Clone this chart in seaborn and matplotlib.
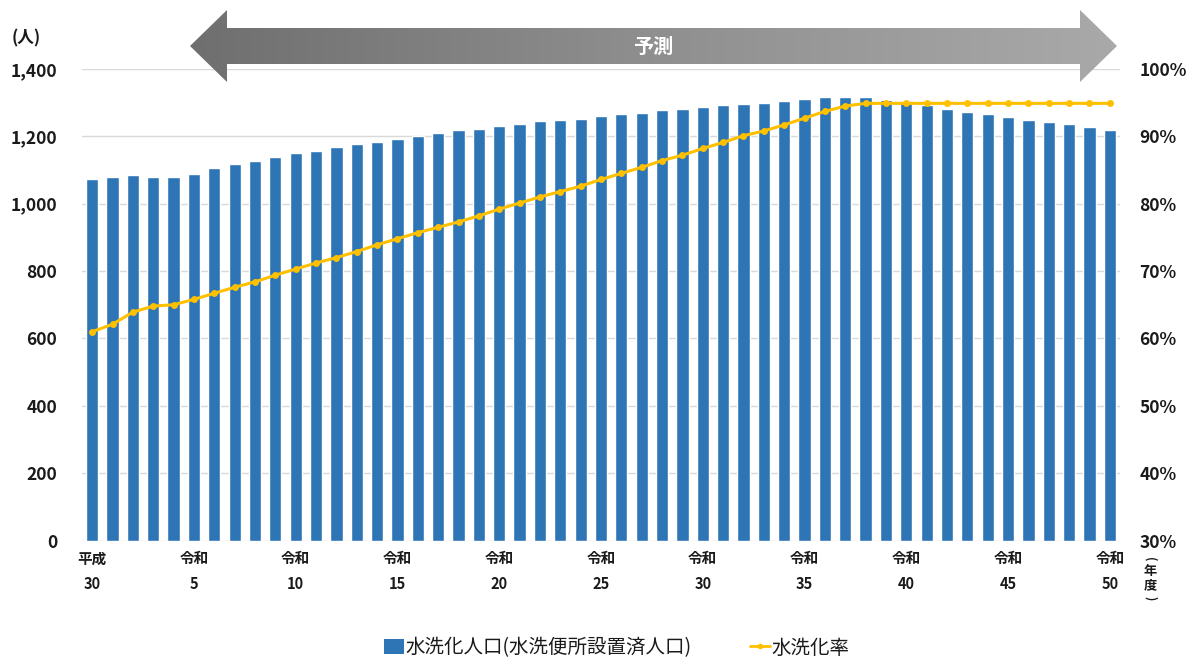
import numpy as np
import pandas as pd
import matplotlib
matplotlib.use("Agg")
import matplotlib.pyplot as plt
from matplotlib.patches import Polygon, Patch
from matplotlib.lines import Line2D
import seaborn as sns

# Fiscal years: Heisei 30 followed by Reiwa 1-50
years = ["平成30"] + [f"令和{i}" for i in range(1, 51)]

# Flush-toilet population (persons)
population = [
    1073, 1078, 1086, 1078, 1078, 1089, 1105, 1117, 1128,
    1138, 1150, 1158, 1167, 1176, 1184, 1192, 1201, 1209, 1218, 1223,
    1232, 1237, 1245, 1248, 1252, 1261, 1266, 1270, 1278, 1282, 1287,
    1292, 1296, 1300, 1304, 1311, 1316, 1316,
    1316, 1308, 1300, 1293, 1282, 1273, 1265, 1256, 1248, 1243, 1236,
    1227, 1219,
]

# Flush-toilet rate (%)
rate = [
    61.0, 62.1, 63.9, 64.8, 65.0, 65.8, 66.7, 67.6, 68.4, 69.4,
    70.3, 71.2, 72.0, 72.9, 73.9, 74.8, 75.7, 76.5, 77.3, 78.2,
    79.2, 80.1, 81.0, 81.8, 82.6, 83.6, 84.5, 85.4, 86.4, 87.2,
    88.2, 89.1, 90.1, 90.8, 91.7, 92.7, 93.7, 94.5, 94.9,
    94.9, 94.9, 94.9, 94.9, 94.9, 94.9, 94.9, 94.9, 94.9, 94.9,
    94.9, 94.9,
]

tick_positions = [0, 5, 10, 15, 20, 25, 30, 35, 40, 45, 50]
tick_labels = ["平成\n30", "令和\n5", "令和\n10", "令和\n15", "令和\n20",
               "令和\n25", "令和\n30", "令和\n35", "令和\n40", "令和\n45",
               "令和\n50"]

bar_label = "水洗化人口(水洗便所設置済人口)"
line_label = "水洗化率"
forecast_label = "予測"

BAR_COLOR = "#2E75B6"
LINE_COLOR = "#FFC000"
GRID_COLOR = "#D9D9D9"
TEXT_COLOR = "#1a1a1a"

sns.set_theme(style="white")
plt.rcParams["font.family"] = ["Noto Sans CJK JP", "DejaVu Sans"]

df = pd.DataFrame({"idx": np.arange(len(years)), "year": years,
                   "population": population, "rate": rate})

W, H = 1194, 661
fig = plt.figure(figsize=(W / 100, H / 100), dpi=100)
ax = fig.add_axes([82 / W, 1 - 540.5 / H, (1120 - 82) / W, (540.5 - 69) / H])

sns.barplot(data=df, x="idx", y="population", color=BAR_COLOR,
            saturation=1, width=0.6, ax=ax, zorder=2)
ax.set_ylim(0, 1400)
ax.set_yticks(range(0, 1401, 200))
ax.set_yticklabels([f"{v:,}" for v in range(0, 1401, 200)],
                   fontsize=12.5, fontweight="bold", color=TEXT_COLOR)
ax.yaxis.grid(True, color=GRID_COLOR, linewidth=1, zorder=0)
ax.set_axisbelow(True)
ax.set_xlim(-0.5, len(years) - 0.5)
ax.set_xticks(tick_positions)
ax.set_xticklabels(tick_labels, fontsize=10.5, fontweight="bold",
                   color=TEXT_COLOR, linespacing=1.75)
ax.tick_params(axis="x", length=0, pad=7)
ax.tick_params(axis="y", length=0, pad=18)
ax.set_xlabel("")
ax.set_ylabel("")
for s in ax.spines.values():
    s.set_visible(False)

ax2 = ax.twinx()
sns.lineplot(data=df, x="idx", y="rate", color=LINE_COLOR, linewidth=2.2,
             marker="o", markersize=5, markeredgewidth=0, ax=ax2, zorder=3)
ax2.set_ylim(30, 100)
ax2.set_yticks(range(30, 101, 10))
ax2.set_yticklabels([f"{v}%" for v in range(30, 101, 10)],
                    fontsize=12.5, fontweight="bold", color=TEXT_COLOR)
ax2.tick_params(axis="y", length=0, pad=14)
ax2.set_xlabel("")
ax2.set_ylabel("")
ax2.grid(False)
for s in ax2.spines.values():
    s.set_visible(False)
ax2.set_xlim(-0.5, len(years) - 0.5)

# Unit labels
fig.text(12 / W, 1 - 38 / H, "(人)", fontsize=12, fontweight="bold",
         color=TEXT_COLOR, ha="left", va="center")
ux = 1150 / W
fig.text(ux, 1 - 559 / H, "(", rotation=-90, fontsize=8.5, fontweight="bold",
         color=TEXT_COLOR, ha="center", va="center")
fig.text(ux, 1 - 571 / H, "年", fontsize=9.5, fontweight="bold",
         color=TEXT_COLOR, ha="center", va="center")
fig.text(ux, 1 - 585 / H, "度", fontsize=9.5, fontweight="bold",
         color=TEXT_COLOR, ha="center", va="center")
fig.text(ux, 1 - 598 / H, ")", rotation=-90, fontsize=8.5, fontweight="bold",
         color=TEXT_COLOR, ha="center", va="center")

# Forecast arrow with horizontal grey gradient
ov = fig.add_axes([0, 0, 1, 1], zorder=5)
ov.set_xlim(0, W)
ov.set_ylim(H, 0)
ov.axis("off")
pts = [(190, 46), (227, 10), (227, 28), (1080, 28), (1080, 10), (1117, 46),
       (1080, 82), (1080, 64), (227, 64), (227, 82)]
poly = Polygon(pts, closed=True, facecolor="none", edgecolor="none")
ov.add_patch(poly)
grad = np.linspace(0, 1, 256).reshape(1, -1)
cmap = matplotlib.colors.LinearSegmentedColormap.from_list(
    "arrow_grey", ["#6f6f6f", "#8f8f8f", "#a9a9a9"])
img = ov.imshow(grad, extent=(190, 1117, 82, 10), cmap=cmap, aspect="auto",
                interpolation="bilinear")
img.set_clip_path(poly)
ov.text(653, 46, forecast_label, color="white", fontsize=14.5,
        fontweight="bold", ha="center", va="center")

# Legend
handles = [
    Patch(facecolor=BAR_COLOR, edgecolor="none", label=bar_label),
    Line2D([0], [0], color=LINE_COLOR, linewidth=2, marker="o",
           markersize=4, markeredgewidth=0, label=line_label),
]
fig.legend(handles=handles, loc="center", bbox_to_anchor=(617 / W, 1 - 648 / H),
           ncol=2, frameon=False, fontsize=14, handlelength=1.0,
           handleheight=0.8, handletextpad=0.1, columnspacing=3.0,
           labelcolor=TEXT_COLOR)

fig.savefig("out.png", dpi=100)
